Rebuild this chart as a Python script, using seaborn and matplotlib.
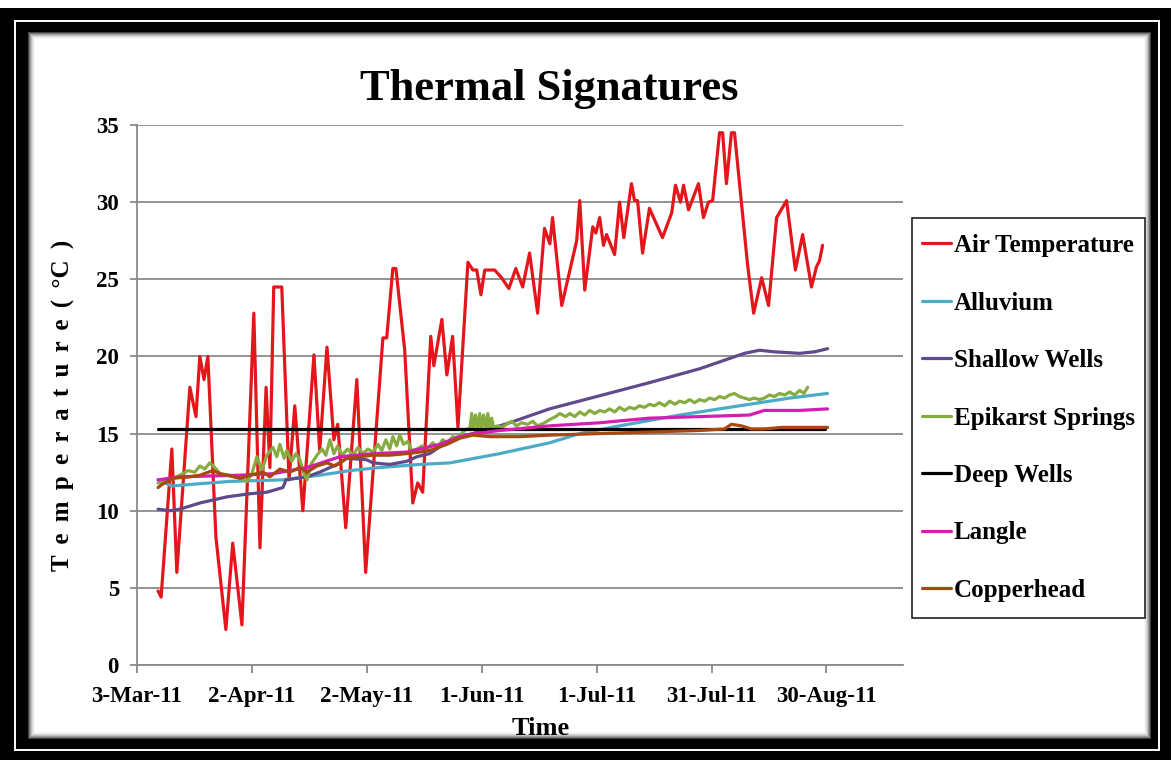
import numpy as np
import pandas as pd
import matplotlib
matplotlib.use("Agg")
import matplotlib.pyplot as plt
from matplotlib.patches import Rectangle
from matplotlib.ticker import FuncFormatter
import seaborn as sns

# ---------------------------------------------------------------------------
# Data: days since 3-Mar-2011 and temperature (deg C) for each record
# ---------------------------------------------------------------------------
START = pd.Timestamp("2011-03-03")

SERIES = ["Air Temperature", "Alluvium", "Shallow Wells", "Epikarst Springs",
          "Deep Wells", "Langle", "Copperhead"]
COLORS = ["#E3161B", "#4BACC6", "#5F4B8B", "#86AC41", "#000000", "#D21FB2", "#A8470F"]

AIR_DAYS = [5.5, 6.3, 9.1, 10.4, 13.8, 15.4, 16.4, 17.5, 18.5, 20.6, 23.2, 25.0, 27.4,
            30.5, 32.1, 33.7, 34.7, 35.7, 37.8, 39.7, 41.2, 43.3, 46.2, 47.7, 49.6,
            51.4, 52.4, 54.5, 57.4, 59.7, 64.2, 65.2, 66.8, 67.6, 69.9, 72.0, 73.3,
            74.6, 76.7, 77.5, 79.6, 80.9, 82.4, 83.8, 86.4, 87.7, 88.7, 89.8, 90.8,
            93.4, 95.2, 97.1, 98.9, 100.7, 102.5, 104.6, 106.4, 107.8, 108.5, 110.9,
            114.8, 115.6, 116.9, 119.0, 119.8, 120.8, 121.8, 122.6, 124.7, 126.0,
            127.1, 129.1, 129.9, 130.7, 132.0, 133.8, 137.2, 139.6, 140.6, 141.9,
            142.7, 144.0, 146.6, 147.9, 149.2, 150.3, 152.1, 152.9, 153.9, 155.2,
            156.0, 159.4, 161.0, 163.1, 164.9, 167.0, 169.6, 171.9, 173.8, 176.1,
            177.4, 178.2, 179.0]
AIR_T = [4.8, 4.4, 14.0, 6.0, 18.0, 16.1, 20.0, 18.5, 20.0, 8.3, 2.3, 7.9, 2.6,
         22.8, 7.6, 18.0, 12.8, 24.5, 24.5, 12.0, 16.8, 10.0, 20.1, 13.9, 20.6,
         14.6, 15.6, 8.9, 18.5, 6.0, 21.2, 21.2, 25.7, 25.7, 20.4, 10.5, 11.8,
         11.2, 21.3, 19.4, 22.4, 18.8, 21.3, 15.4, 26.1, 25.6, 25.6, 24.0, 25.6,
         25.6, 25.1, 24.4, 25.7, 24.5, 26.7, 22.8, 28.3, 27.3, 29.0, 23.3,
         27.5, 30.1, 24.3, 28.4, 28.0, 29.0, 27.2, 27.9, 26.6, 30.0,
         27.7, 31.2, 30.1, 30.1, 26.7, 29.6, 27.7, 29.3, 31.1, 30.0,
         31.1, 29.5, 31.2, 29.0, 30.0, 30.1, 34.5, 34.5, 31.2, 34.5,
         34.5, 26.0, 22.8, 25.1, 23.3, 29.0, 30.1, 25.6, 27.9, 24.5,
         25.8, 26.2, 27.2]

ALLUVIUM_DAYS = [5.5, 7.3, 9.1, 13.8, 24.3, 38.1, 47.7, 55.6, 63.4, 73.8, 81.7,
                 94.7, 107.7, 115.6, 126.0, 141.7, 157.3, 170.4, 180.3]
ALLUVIUM_T = [12.0, 11.8, 11.6, 11.7, 11.9, 12.0, 12.3, 12.6, 12.8, 13.0, 13.1,
              13.7, 14.4, 15.0, 15.5, 16.2, 16.8, 17.3, 17.6]

SHALLOW_DAYS = [5.5, 8.6, 11.2, 16.4, 23.5, 29.5, 33.9, 38.1, 38.9, 44.4, 47.7,
                52.2, 54.8, 60.0, 61.6, 66.0, 70.4, 73.1, 76.4, 82.4, 87.7, 92.1,
                97.3, 107.7, 120.0, 133.8, 146.9, 158.6, 162.5, 166.4, 173.0,
                176.9, 180.3]
SHALLOW_T = [10.1, 10.0, 10.1, 10.5, 10.9, 11.1, 11.2, 11.5, 12.0, 12.2, 12.5,
             13.0, 13.4, 13.3, 13.1, 13.0, 13.2, 13.5, 13.7, 14.7, 15.0, 15.3,
             15.7, 16.6, 17.4, 18.3, 19.2, 20.2, 20.4, 20.3, 20.2, 20.3, 20.5]

EPIKARST_DAYS = [5.5, 8.6, 11.2, 13.3, 15.1, 16.4, 17.7, 19.0, 20.3, 21.7, 24.3,
                 26.9, 28.7, 30.0, 31.3, 32.6, 33.9, 35.5, 36.5, 37.3, 38.4, 39.1,
                 40.4, 41.5, 42.5, 43.6, 44.4, 45.4, 47.0, 48.3, 49.3, 50.4, 51.4,
                 52.4, 53.5, 55.0, 56.4, 57.7, 59.0, 60.3, 61.6, 62.9, 63.9, 65.0,
                 66.0, 66.8, 67.8, 68.6, 69.6, 70.7, 71.7, 73.1, 74.4, 75.7, 77.2,
                 78.5, 79.8, 81.1, 82.4, 83.8, 85.1, 86.1, 86.9, 87.4, 87.9, 88.4,
                 89.0, 89.5, 90.0, 90.5, 91.1, 91.6, 92.1, 92.6, 93.1, 94.2, 95.2,
                 96.5, 97.8, 99.1, 100.4, 102.0, 103.3, 104.6, 106.4, 107.7, 109.3,
                 110.4, 111.9, 113.0, 114.3, 115.6, 116.9, 118.2, 119.5, 120.8,
                 122.1, 123.4, 124.7, 126.0, 127.3, 128.6, 129.9, 131.2, 132.5,
                 133.8, 135.1, 136.4, 137.8, 139.1, 140.4, 141.7, 143.0, 144.3,
                 145.6, 146.9, 148.2, 149.5, 150.8, 152.1, 153.4, 154.7, 156.0,
                 157.3, 158.6, 159.9, 161.2, 162.5, 163.8, 165.1, 166.4, 167.8,
                 169.1, 170.4, 171.7, 173.0, 174.1, 175.1]
EPIKARST_T = [11.8, 12.0, 12.3, 12.6, 12.5, 12.9, 12.7, 13.1, 12.8, 12.4, 12.3,
              12.1, 11.9, 12.4, 13.5, 12.6, 13.6, 14.1, 13.5, 14.3, 13.4, 13.9,
              13.2, 13.7, 13.3, 12.4, 12.0, 13.0, 13.6, 14.0, 13.6, 14.6, 13.7,
              14.2, 13.6, 14.0, 13.6, 14.1, 13.7, 14.0, 13.8, 14.3, 13.9, 14.6,
              14.0, 14.8, 14.2, 14.9, 14.3, 14.5, 13.9, 14.0, 14.2, 14.0, 14.4,
              14.1, 14.6, 14.4, 14.8, 14.7, 15.1, 15.3, 15.3, 16.3, 15.3, 16.2,
              15.3, 16.3, 15.3, 16.2, 15.3, 16.3, 15.3, 16.0, 15.4, 15.5, 15.4,
              15.6, 15.8, 15.5, 15.7, 15.6, 15.8, 15.5, 15.7, 15.9, 16.1,
              16.3, 16.1, 16.3, 16.1, 16.4, 16.2, 16.5, 16.3, 16.5,
              16.4, 16.6, 16.4, 16.7, 16.5, 16.7, 16.6, 16.8, 16.7,
              16.9, 16.8, 17.0, 16.8, 17.1, 16.9, 17.1, 17.0, 17.2,
              17.0, 17.2, 17.1, 17.3, 17.2, 17.4, 17.3, 17.5, 17.6,
              17.4, 17.3, 17.2, 17.3, 17.2, 17.3, 17.5, 17.4, 17.6,
              17.5, 17.7, 17.5, 17.8, 17.6, 18.0]

DEEP_DAYS = [5.5, 40.0, 80.0, 120.0, 160.0, 179.7]
DEEP_T = [15.3, 15.3, 15.3, 15.3, 15.3, 15.3]

LANGLE_DAYS = [5.5, 11.2, 26.9, 35.5, 44.4, 53.0, 61.6, 70.4, 79.0, 84.3, 88.2,
               94.7, 107.7, 120.8, 133.8, 146.9, 159.9, 163.8, 173.0, 180.3]
LANGLE_T = [12.0, 12.2, 12.3, 12.4, 12.8, 13.5, 13.7, 13.8, 14.3, 14.8, 15.0,
            15.2, 15.5, 15.7, 16.0, 16.1, 16.2, 16.5, 16.5, 16.6]

COPPER_DAYS = [5.5, 6.5, 9.4, 13.8, 16.4, 19.8, 21.7, 23.5, 26.9, 29.5, 32.9,
               34.7, 37.3, 39.9, 42.5, 44.4, 47.0, 49.6, 51.7, 54.8, 58.2, 61.6,
               66.0, 70.4, 73.8, 76.4, 80.9, 84.3, 87.7, 92.1, 99.9, 107.7,
               120.8, 133.8, 146.9, 153.4, 155.2, 157.8, 160.4, 163.8, 168.5,
               173.0, 180.3]
COPPER_T = [11.5, 11.7, 12.1, 12.2, 12.3, 12.6, 12.4, 12.3, 12.1, 12.3, 12.5,
            12.2, 12.7, 12.5, 12.8, 12.5, 12.9, 13.1, 12.9, 13.4, 13.5, 13.6,
            13.6, 13.7, 13.8, 13.9, 14.3, 14.7, 14.9, 14.8, 14.8, 14.9,
            15.0, 15.1, 15.2, 15.3, 15.6, 15.5, 15.3, 15.3, 15.4,
            15.4, 15.4]

Y_TICKS = [0, 5, 10, 15, 20, 25, 30, 35]
X_TICK_DAYS = [0, 30, 60, 90, 120, 150, 180]
X_END_DAY = 200

records = [
    (SERIES[0], AIR_DAYS, AIR_T),
    (SERIES[1], ALLUVIUM_DAYS, ALLUVIUM_T),
    (SERIES[2], SHALLOW_DAYS, SHALLOW_T),
    (SERIES[3], EPIKARST_DAYS, EPIKARST_T),
    (SERIES[4], DEEP_DAYS, DEEP_T),
    (SERIES[5], LANGLE_DAYS, LANGLE_T),
    (SERIES[6], COPPER_DAYS, COPPER_T),
]
df = pd.concat(
    [pd.DataFrame({"date": START + pd.to_timedelta(np.asarray(d), unit="D"),
                   "temp": t, "series": name}) for name, d, t in records],
    ignore_index=True)

# ---------------------------------------------------------------------------
# Figure
# ---------------------------------------------------------------------------
sns.set_theme(style="white")
SERIF = ["Liberation Serif", "DejaVu Serif"]
plt.rcParams["font.family"] = SERIF
plt.rcParams["font.weight"] = "bold"
plt.rcParams["text.color"] = "black"

W, H = 1171, 760
fig = plt.figure(figsize=(W / 100, H / 100), dpi=100)
fig.patch.set_facecolor("white")


def px_rect(x0, y0, x1, y1, zorder=-10, **kw):
    rect = Rectangle((x0 / W, 1 - y1 / H), (x1 - x0) / W, (y1 - y0) / H,
                     transform=fig.transFigure, zorder=zorder, **kw)
    fig.add_artist(rect)


# double black picture frame with soft inner shadow
px_rect(0, 8, W, H, facecolor="black", edgecolor="none")
px_rect(15, 21, 1159, 750, facecolor="none", edgecolor="white", linewidth=1.4)
px_rect(28, 32, 1150, 738, facecolor="white", edgecolor="none")
for i, g in enumerate([0.25, 0.45, 0.62, 0.75, 0.85, 0.92, 0.97]):
    px_rect(28 + i, 32 + i, 1150 - i, 738 - i, facecolor="none",
            edgecolor=(g, g, g), linewidth=0.8)

ax = fig.add_axes([137 / W, 1 - 665 / H, (903 - 137) / W, (665 - 125) / H])
ax.set_facecolor("none")

palette = dict(zip(SERIES, COLORS))
sns.lineplot(data=df, x="date", y="temp", hue="series", hue_order=SERIES,
             palette=palette, estimator=None, sort=False, linewidth=2.3, ax=ax)

grid_col = "#8a8a8a"
ax.set_ylim(0, 35)
ax.set_yticks(Y_TICKS)
ax.set_xlim(START, START + pd.Timedelta(days=X_END_DAY))
ax.set_xticks([START + pd.Timedelta(days=d) for d in X_TICK_DAYS])
ax.xaxis.set_major_formatter(FuncFormatter(
    lambda v, _: (lambda t: f"{t.day}-{t.strftime('%b-%y')}")(
        pd.Timestamp(matplotlib.dates.num2date(v)).tz_localize(None))))
ax.yaxis.grid(True, color=grid_col, linewidth=1.3)
ax.xaxis.grid(False)
for side in ("top", "right"):
    ax.spines[side].set_visible(False)
for side in ("left", "bottom"):
    ax.spines[side].set_color(grid_col)
    ax.spines[side].set_linewidth(1.3)
ax.tick_params(axis="x", bottom=True, direction="out", length=6, width=1.3,
               color=grid_col, pad=9, labelsize=16.5, labelcolor="black")
ax.tick_params(axis="y", left=True, direction="out", length=5, width=1.3,
               color=grid_col, pad=8, labelsize=16.5, labelcolor="black")
for lab in ax.get_xticklabels() + ax.get_yticklabels():
    lab.set_fontweight("bold")
ax.set_xlabel("")
ax.set_ylabel("")

# legend box with its own frame
LEG_X0, LEG_Y0, LEG_X1, LEG_Y1 = 912, 218, 1145, 618
px_rect(LEG_X0, LEG_Y0, LEG_X1, LEG_Y1, zorder=4, facecolor="white",
        edgecolor="#222222", linewidth=1.2)
handles, labels = ax.get_legend_handles_labels()
if ax.get_legend() is not None:
    ax.get_legend().remove()
leg = fig.legend(handles, labels, loc="center",
                 bbox_to_anchor=((LEG_X0 + LEG_X1) / 2 / W,
                                 1 - (LEG_Y0 + LEG_Y1) / 2 / H),
                 frameon=False,
                 prop=dict(family=SERIF, weight="bold", size=18),
                 handlelength=1.15, handletextpad=0.1, labelspacing=1.38,
                 borderpad=0.0, borderaxespad=0)
leg.set_zorder(5)
for ln in leg.get_lines():
    ln.set_linewidth(2.3)

fig.text(549 / W, 1 - 100 / H, "Thermal Signatures", ha="center", va="baseline",
         fontsize=32, fontweight="bold", family=SERIF, color="black")
fig.text(541 / W, 1 - 735 / H, "Time", ha="center", va="baseline",
         fontsize=19, fontweight="bold", family=SERIF, color="black")
ylab = " \u2009".join(list("Temperature")) + " \u2009( \u2009\u00b0C \u2009)"
fig.text(63 / W, 1 - 405 / H, ylab, rotation=90,
         ha="center", va="center", fontsize=18, fontweight="bold",
         family=SERIF, color="black")

fig.savefig("out.png", dpi=100)
